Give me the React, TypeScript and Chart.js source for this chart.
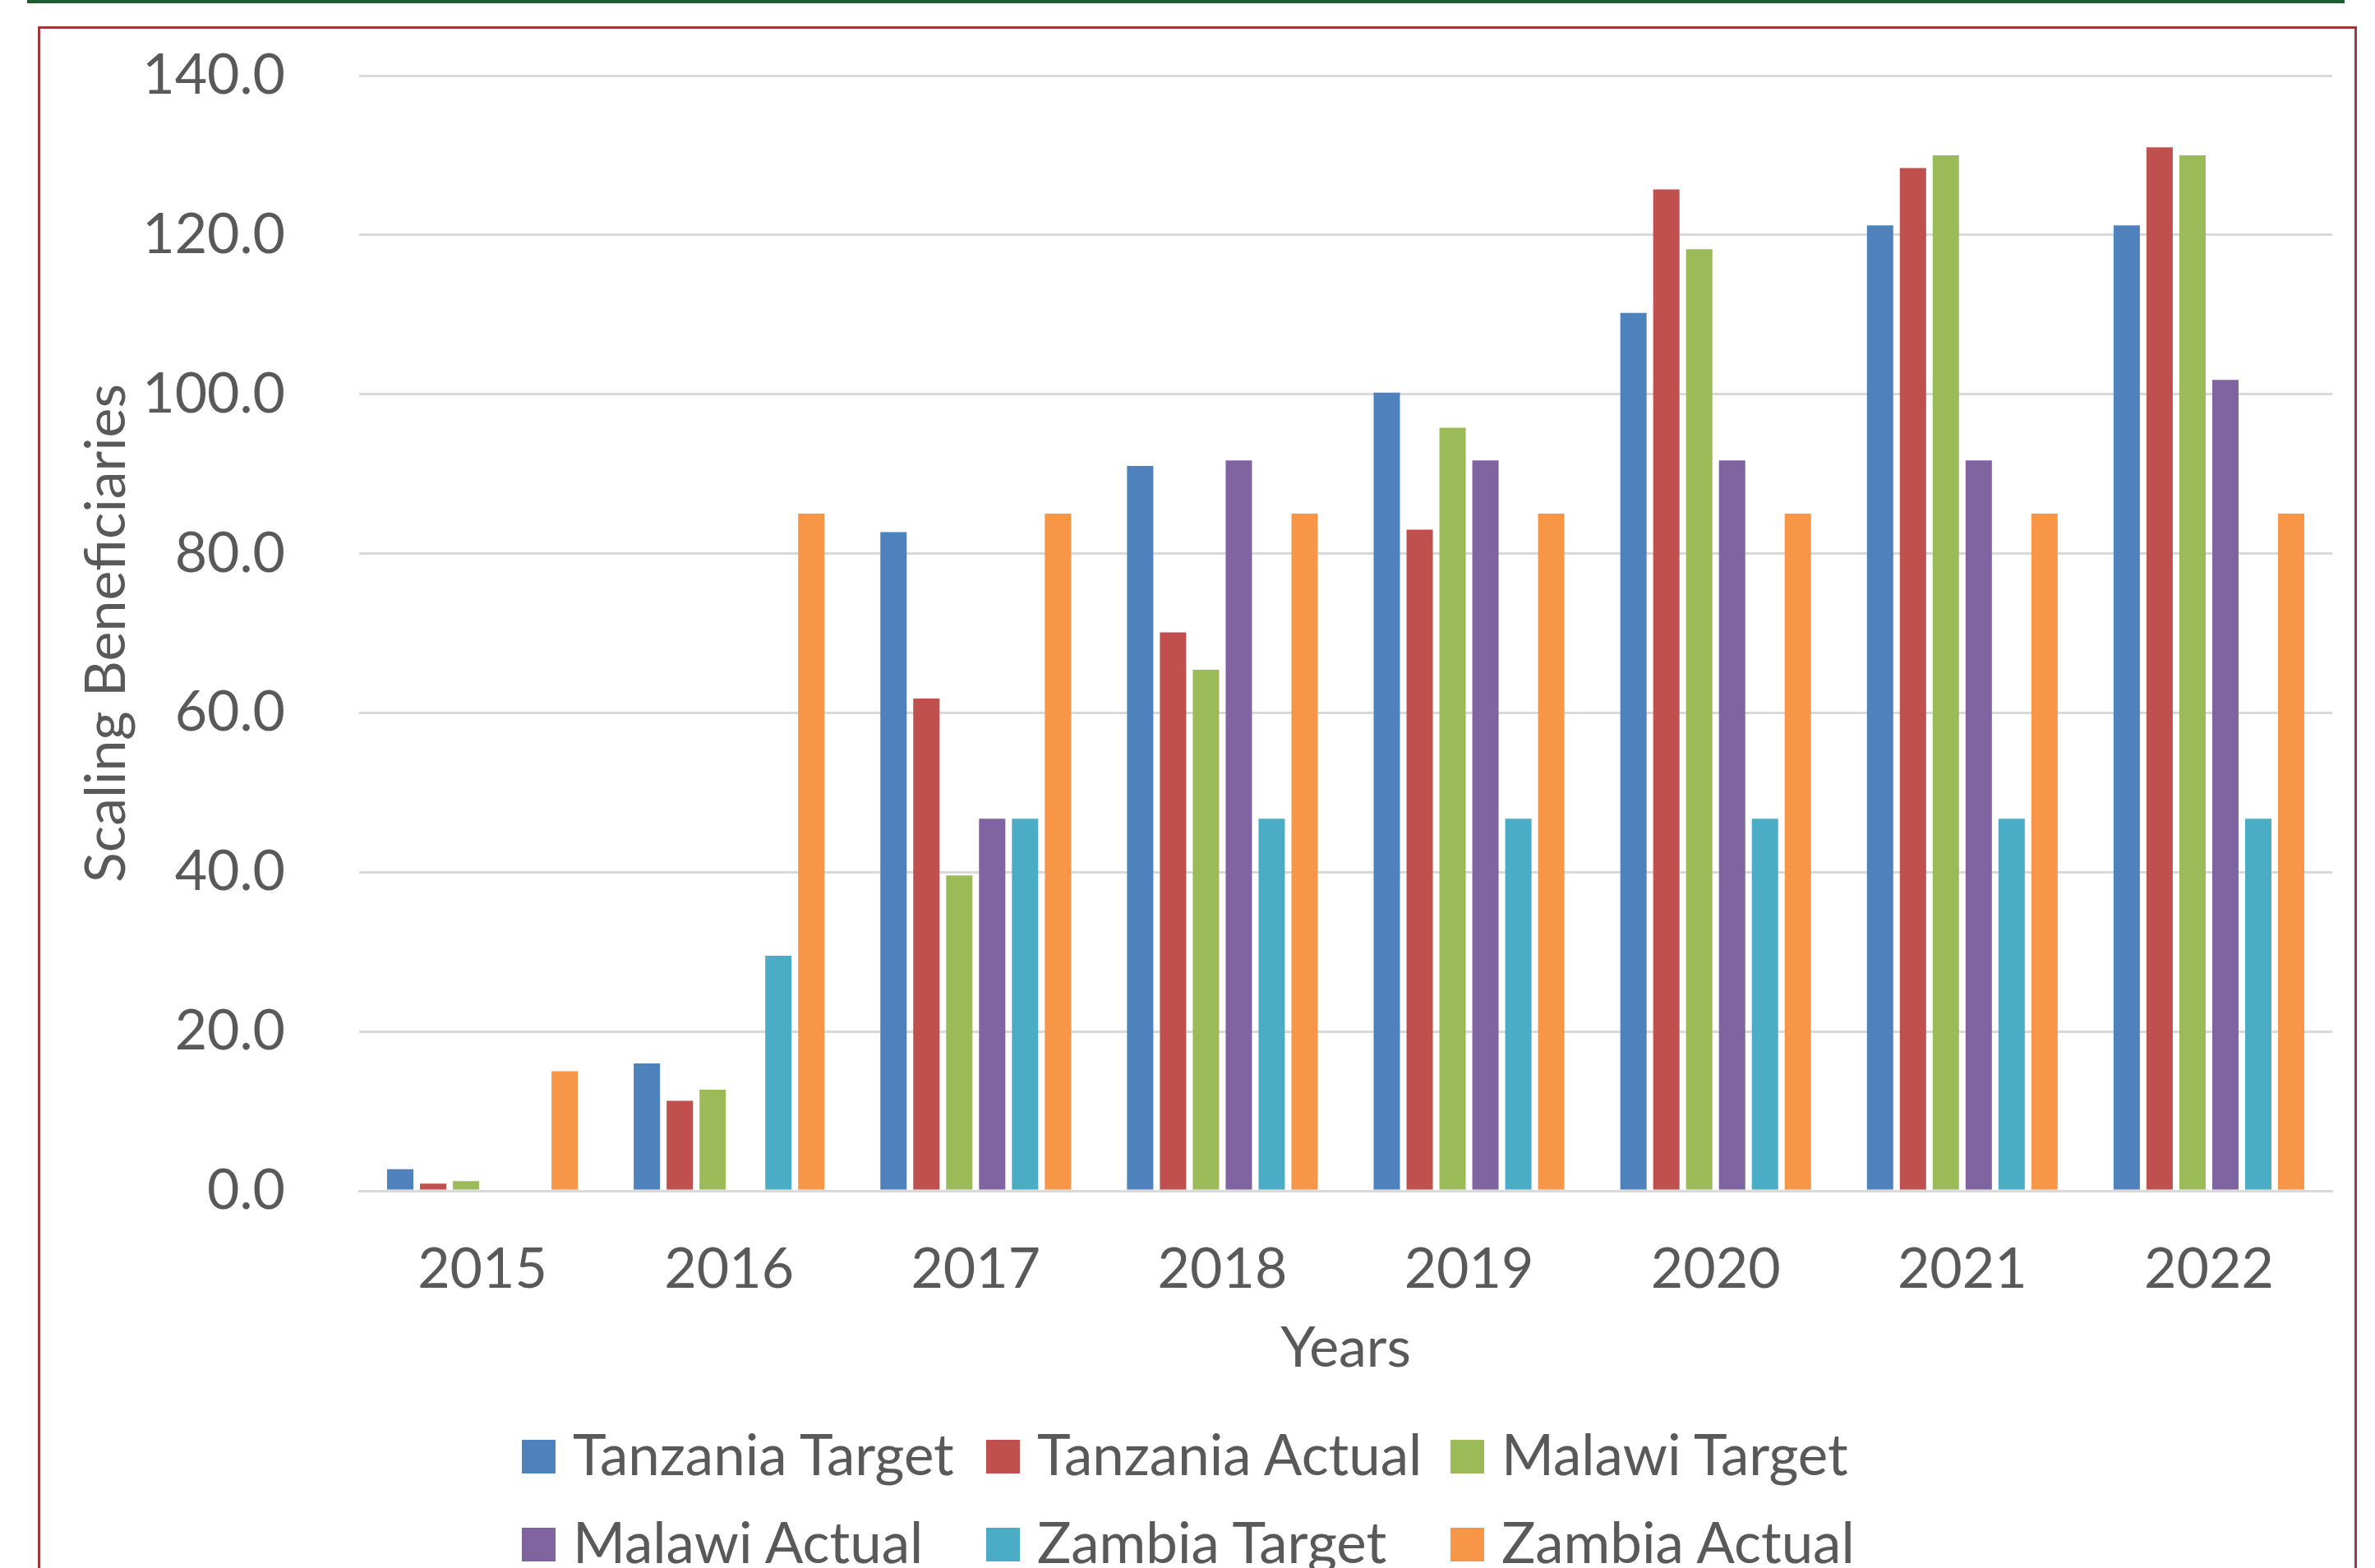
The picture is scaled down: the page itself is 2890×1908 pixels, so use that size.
import React, { useEffect, useRef } from 'react';
import { Chart, registerables } from 'chart.js';

Chart.register(...registerables);

const years = ['2015', '2016', '2017', '2018', '2019', '2020', '2021', '2022'];

const tanzaniaTarget = [2.7, 16.0, 82.7, 91.0, 100.2, 110.2, 121.2, 121.2];
const tanzaniaActual = [0.9, 11.3, 61.8, 70.1, 83.0, 125.7, 128.4, 131.0];
const malawiTarget = [1.2, 12.7, 39.6, 65.4, 95.8, 118.2, 130.0, 130.0];
const malawiActual = [0, 0, 46.7, 91.7, 91.7, 91.7, 91.7, 101.8];
const zambiaTarget = [0, 29.5, 46.7, 46.7, 46.7, 46.7, 46.7, 46.7];
const zambiaActual = [15.0, 85.0, 85.0, 85.0, 85.0, 85.0, 85.0, 85.0];

const seriesNames = [
  'Tanzania Target',
  'Tanzania Actual',
  'Malawi Target',
  'Malawi Actual',
  'Zambia Target',
  'Zambia Actual',
];
const seriesValues = [tanzaniaTarget, tanzaniaActual, malawiTarget, malawiActual, zambiaTarget, zambiaActual];
const seriesColors = ['#4f81bd', '#c0504d', '#9bbb59', '#8064a2', '#4bacc6', '#f79646'];

const yMin = 0;
const yMax = 140;
const yStep = 20;

const xTitle = 'Years';
const yTitle = 'Scaling Beneficiaries';

const TEXT = '#595959';
const FONT = 'Lato';
const FS = 68;

export default function App() {
  const ref = useRef<HTMLCanvasElement>(null);

  useEffect(() => {
    const chart = new Chart(ref.current as HTMLCanvasElement, {
      type: 'bar',
      data: {
        labels: years,
        datasets: seriesValues.map((d, i) => ({
          label: seriesNames[i],
          data: d,
          backgroundColor: seriesColors[i],
          borderWidth: 0,
          categoryPercentage: 0.8,
          barPercentage: 0.8,
        })),
      },
      options: {
        responsive: false,
        animation: false,
        devicePixelRatio: 1,
        layout: { padding: { left: 0, right: 27, top: 57, bottom: 26 } },
        plugins: {
          legend: { display: false },
          tooltip: { enabled: false },
        },
        scales: {
          x: {
            grid: { display: false, drawTicks: false },
            border: { display: true, color: '#d9d9d9', width: 3 },
            ticks: { color: TEXT, font: { family: FONT, size: FS }, padding: 55 },
            title: {
              display: true,
              text: xTitle,
              color: TEXT,
              font: { family: FONT, size: FS },
              padding: { top: 0, bottom: 7 },
            },
            afterFit: (s: any) => {
              s.height = 240;
              s.paddingLeft = 0;
              s.paddingRight = 0;
            },
          },
          y: {
            min: yMin,
            max: yMax,
            ticks: {
              stepSize: yStep,
              color: TEXT,
              font: { family: FONT, size: FS },
              padding: 90,
              callback: (v: any) => Number(v).toFixed(1),
            },
            grid: { color: '#d9d9d9', lineWidth: 3, drawTicks: false },
            border: { display: false },
            title: {
              display: true,
              text: yTitle,
              color: TEXT,
              font: { family: FONT, size: FS },
              padding: { top: 40, bottom: 0 },
            },
            afterFit: (s: any) => {
              s.width = 388;
              s.paddingTop = 0;
              s.paddingBottom = 0;
            },
          },
        },
      },
    } as any);
    return () => chart.destroy();
  }, []);

  return (
    <div
      style={{
        position: 'fixed',
        left: 0,
        top: 0,
        width: 2890,
        height: 1908,
        background: '#ffffff',
        overflow: 'hidden',
      }}
    >
      <div style={{ position: 'absolute', left: 33, top: 0, width: 2820, height: 4, background: '#1f5c31' }} />
      <div
        style={{
          position: 'absolute',
          left: 46,
          top: 32,
          width: 2822,
          height: 2000,
          border: '3px solid #9b3a3a',
          boxSizing: 'border-box',
        }}
      />
      <canvas
        ref={ref}
        width={2816}
        height={1680}
        style={{ position: 'absolute', left: 49, top: 35, width: 2816, height: 1680 }}
      />
      {seriesNames.map((name, i) => {
        const col = i % 3;
        const row = Math.floor(i / 3);
        return (
          <div
            key={name}
            style={{
              position: 'absolute',
              left: 635 + col * 565,
              top: 1752 + row * 107,
              display: 'flex',
              alignItems: 'flex-start',
              whiteSpace: 'nowrap',
            }}
          >
            <div style={{ width: 41, height: 41, background: seriesColors[i], flex: 'none' }} />
            <span
              style={{
                marginLeft: 21,
                fontFamily: FONT,
                fontSize: 69,
                color: TEXT,
                lineHeight: '41px',
                position: 'relative',
                top: -4,
              }}
            >
              {name}
            </span>
          </div>
        );
      })}
    </div>
  );
}
